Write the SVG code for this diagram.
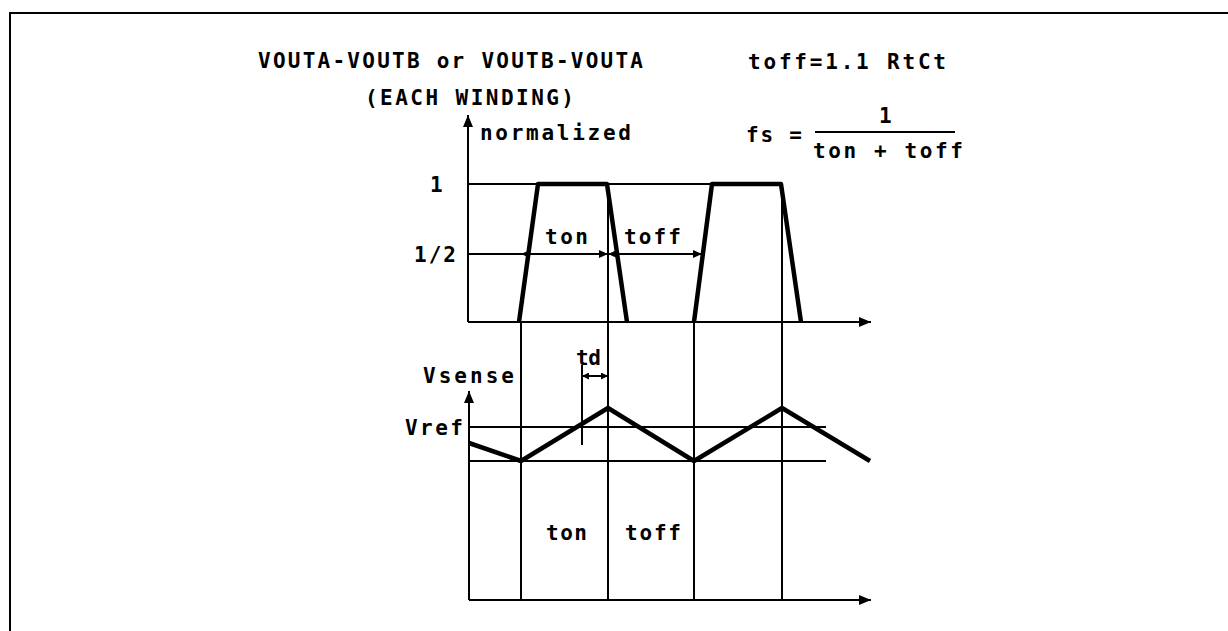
<svg xmlns="http://www.w3.org/2000/svg" width="1228" height="631" viewBox="0 0 1228 631">
<style>
.t{font-family:"DejaVu Sans Mono","Liberation Mono",monospace;font-size:21px;font-weight:bold;fill:#000}
.thin{stroke:#000;stroke-width:2;fill:none}
.thick{stroke:#000;stroke-width:4.5;fill:none;stroke-linejoin:round;stroke-linecap:butt}
</style>
<defs>
<marker id="ax" viewBox="0 0 12 10" refX="12" refY="5" markerWidth="12" markerHeight="10" markerUnits="userSpaceOnUse" orient="auto-start-reverse"><path d="M0,0 L12,5 L0,10 z" fill="#000"/></marker>
<marker id="dm" viewBox="0 0 9 8" refX="9" refY="4" markerWidth="9" markerHeight="8" markerUnits="userSpaceOnUse" orient="auto-start-reverse"><path d="M0,0 L9,4 L0,8 z" fill="#000"/></marker>
<marker id="td" viewBox="0 0 7 7" refX="7" refY="3.5" markerWidth="7" markerHeight="7" markerUnits="userSpaceOnUse" orient="auto-start-reverse"><path d="M0,0 L7,3.5 L0,7 z" fill="#000"/></marker>
</defs>
<rect width="1228" height="631" fill="#fff"/>
<g id="frame">
<line x1="10" y1="13" x2="1228" y2="13" class="thin"/>
<line x1="10" y1="12" x2="10" y2="631" class="thin"/>
</g>
<g id="labels">
<text class="t" x="258" y="68" textLength="385" lengthAdjust="spacing">VOUTA-VOUTB or VOUTB-VOUTA</text>
<text class="t" x="748" y="69" textLength="198" lengthAdjust="spacing">toff=1.1 RtCt</text>
<text class="t" x="365" y="105" textLength="209" lengthAdjust="spacing">(EACH WINDING)</text>
<text class="t" x="480" y="140" textLength="151" lengthAdjust="spacing">normalized</text>
<text class="t" x="746" y="142" textLength="56" lengthAdjust="spacing">fs =</text>
<text class="t" x="879" y="123">1</text>
<line x1="815" y1="132" x2="955" y2="132" class="thin"/>
<text class="t" x="813" y="158" textLength="150" lengthAdjust="spacing">ton + toff</text>
<text class="t" x="430" y="192">1</text>
<text class="t" x="414" y="262" textLength="42" lengthAdjust="spacing">1/2</text>
<text class="t" x="545" y="244" textLength="43" lengthAdjust="spacing">ton</text>
<text class="t" x="624" y="244" textLength="57" lengthAdjust="spacing">toff</text>
<text class="t" x="423" y="383" textLength="91" lengthAdjust="spacing">Vsense</text>
<text class="t" x="405" y="435" textLength="58" lengthAdjust="spacing">Vref</text>
<text class="t" x="576" y="365" textLength="25" lengthAdjust="spacing">td</text>
<text class="t" x="546" y="540" textLength="41" lengthAdjust="spacing">ton</text>
<text class="t" x="625" y="540" textLength="56" lengthAdjust="spacing">toff</text>
</g>
<g id="connectors">
<line x1="468" y1="322" x2="468" y2="115" class="thin" marker-end="url(#ax)"/>
<line x1="468" y1="322" x2="871" y2="322" class="thin" marker-end="url(#ax)"/>
<line x1="468" y1="184" x2="782" y2="184" class="thin"/>
<line x1="468" y1="254" x2="521" y2="254" class="thin"/>
<line x1="521" y1="254" x2="608" y2="254" class="thin" marker-start="url(#dm)" marker-end="url(#dm)"/>
<line x1="608" y1="254" x2="702" y2="254" class="thin" marker-start="url(#dm)" marker-end="url(#dm)"/>
<line x1="521" y1="322" x2="521" y2="600" class="thin"/>
<line x1="608" y1="184" x2="608" y2="600" class="thin"/>
<line x1="694" y1="322" x2="694" y2="600" class="thin"/>
<line x1="782" y1="184" x2="782" y2="600" class="thin"/>
<polyline points="519,322 538,184 607,184 627,322" class="thick"/>
<polyline points="694,322 712,184 781,184 801,322" class="thick"/>
<line x1="469" y1="600" x2="469" y2="391" class="thin" marker-end="url(#ax)"/>
<line x1="469" y1="600" x2="871" y2="600" class="thin" marker-end="url(#ax)"/>
<line x1="469" y1="427" x2="826" y2="427" class="thin"/>
<line x1="469" y1="461" x2="826" y2="461" class="thin"/>
<line x1="582" y1="365" x2="582" y2="445" class="thin"/>
<line x1="582" y1="376" x2="608" y2="376" class="thin" marker-start="url(#td)" marker-end="url(#td)"/>
<polyline points="469,443 521,461 608,408 694,461 782,408 870,461" class="thick"/>
</g>
</svg>
